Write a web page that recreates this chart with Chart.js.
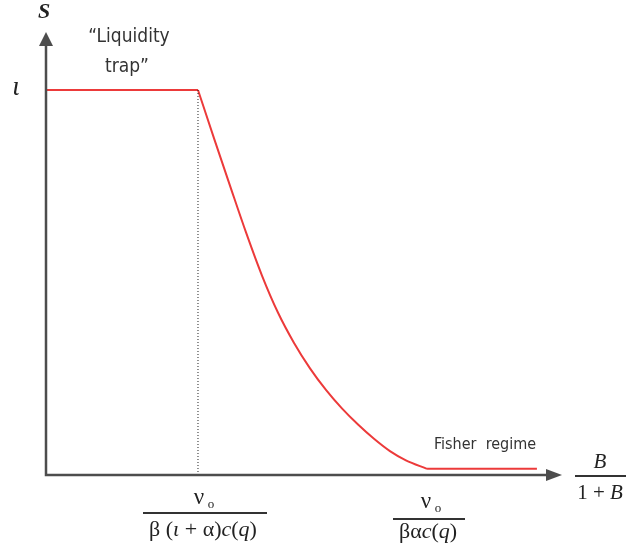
<!DOCTYPE html>
<html>
<head>
<meta charset="utf-8">
<script src="https://cdn.jsdelivr.net/npm/chart.js@4"></script>
<style>
  html, body { margin: 0; padding: 0; background: #fff; }
  #wrap { width: 626px; height: 554px; }
</style>
</head>
<body>
<div id="wrap"><canvas id="grafico" width="626" height="554"></canvas></div>
<script>
// liquidity trap: flat at S = iota
const trampaX = [0, 1];
const trampaY = [1, 1];
// transition curve
const curvaX = [1.0, 1.105, 1.211, 1.316, 1.421, 1.526, 1.632, 1.737, 1.842, 1.947, 2.053, 2.158, 2.263, 2.368, 2.507];
const curvaY = [1.0, 0.875, 0.751, 0.630, 0.518, 0.422, 0.343, 0.277, 0.221, 0.173, 0.131, 0.094, 0.062, 0.038, 0.016];
// Fisher regime
const fisherX = [2.507, 3.23];
const fisherY = [0.016, 0.016];
// dotted guide
const guiaX = [1, 1];
const guiaY = [0, 1];

const puntos = (xs, ys) => xs.map((x, i) => ({ x: x, y: ys[i] }));

const ROJO = "rgb(236,58,58)";
const GRIS = "#4d4d4d";
const SERIF = "'Liberation Serif', 'DejaVu Serif', serif";

// texto con trozos en cursiva / normal
function textoMixto(ctx, trozos, cx, cy, size) {
  let ancho = 0;
  trozos.forEach(t => {
    ctx.font = (t[1] ? "italic " : "") + size + "px " + SERIF;
    ancho += ctx.measureText(t[0]).width;
  });
  let x = cx - ancho / 2;
  ctx.textAlign = "left";
  trozos.forEach(t => {
    ctx.font = (t[1] ? "italic " : "") + size + "px " + SERIF;
    ctx.fillText(t[0], x, cy);
    x += ctx.measureText(t[0]).width;
  });
}

// ejes, flechas y textos
const dibujoEjes = {
  id: "dibujoEjes",
  afterDraw(chart) {
    const ctx = chart.ctx;
    const xs = chart.scales.x, ys = chart.scales.y;
    const x0 = xs.getPixelForValue(0), y0 = ys.getPixelForValue(0);
    const xTop = xs.getPixelForValue(xs.max), yTop = ys.getPixelForValue(ys.max);

    ctx.save();
    ctx.strokeStyle = GRIS;
    ctx.fillStyle = GRIS;
    ctx.lineWidth = 2.5;
    ctx.beginPath();
    ctx.moveTo(x0, yTop + 8);
    ctx.lineTo(x0, y0);
    ctx.lineTo(xTop - 8, y0);
    ctx.stroke();
    // flecha vertical
    ctx.beginPath();
    ctx.moveTo(x0, yTop);
    ctx.lineTo(x0 - 7, yTop + 14);
    ctx.lineTo(x0 + 7, yTop + 14);
    ctx.closePath();
    ctx.fill();
    // flecha horizontal
    ctx.beginPath();
    ctx.moveTo(xTop, y0);
    ctx.lineTo(xTop - 16, y0 - 6);
    ctx.lineTo(xTop - 16, y0 + 6);
    ctx.closePath();
    ctx.fill();

    // etiquetas
    ctx.fillStyle = "#222";
    ctx.textBaseline = "middle";
    ctx.textAlign = "center";
    ctx.font = "bold italic 22px " + SERIF;
    ctx.fillText("S", x0 - 2, 12);
    ctx.font = "italic 27px " + SERIF;
    ctx.fillText("ι", 16, ys.getPixelForValue(1) - 2);

    ctx.fillStyle = "#333";
    ctx.font = "19px 'Liberation Sans Narrow', 'DejaVu Sans Condensed', sans-serif";
    ctx.fillText("\u201CLiquidity", 129, 37);
    ctx.fillText("trap\u201D", 127, 67);
    ctx.textAlign = "left";
    ctx.font = "16px 'Liberation Sans Narrow', 'DejaVu Sans Condensed', sans-serif";
    ctx.fillText("Fisher  regime", 434, 445);

    // fracciones
    const barra = (x1, x2, y) => {
      ctx.strokeStyle = "#333";
      ctx.lineWidth = 2;
      ctx.beginPath();
      ctx.moveTo(x1, y);
      ctx.lineTo(x2, y);
      ctx.stroke();
    };
    const numerador = (cx, y) => {
      ctx.fillStyle = "#222";
      ctx.textAlign = "center";
      ctx.font = "23px " + SERIF;
      ctx.fillText("ν", cx - 4, y);
      ctx.font = "13px " + SERIF;
      ctx.fillText("o", cx + 8, y + 7);
    };
    ctx.fillStyle = "#222";
    const xk = xs.getPixelForValue(1);
    numerador(xk + 5, 498);
    barra(143, 267, 513);
    ctx.fillStyle = "#222";
    textoMixto(ctx, [["β (", false], ["ι", true], [" + α)", false], ["c", true], ["(", false], ["q", true], [")", false]], 203, 530, 22);

    numerador(430, 502);
    barra(393, 465, 519);
    ctx.fillStyle = "#222";
    textoMixto(ctx, [["βα", false], ["c", true], ["(", false], ["q", true], [")", false]], 428, 532, 22);

    barra(575, 626, 476);
    ctx.fillStyle = "#222";
    textoMixto(ctx, [["B", true]], 600, 462, 21);
    textoMixto(ctx, [["1 + ", false], ["B", true]], 600, 493, 21);
    ctx.restore();
  }
};

new Chart(document.getElementById("grafico"), {
  type: "scatter",
  data: {
    datasets: [
      { data: puntos(guiaX, guiaY), showLine: true, borderColor: "#222", borderWidth: 1, borderDash: [1, 2], pointRadius: 0 },
      { data: puntos(trampaX, trampaY), showLine: true, borderColor: ROJO, borderWidth: 2, pointRadius: 0 },
      { data: puntos(curvaX, curvaY), showLine: true, borderColor: ROJO, borderWidth: 2, pointRadius: 0, cubicInterpolationMode: "monotone" },
      { data: puntos(fisherX, fisherY), showLine: true, borderColor: ROJO, borderWidth: 2, pointRadius: 0 }
    ]
  },
  options: {
    responsive: false,
    animation: false,
    layout: { padding: { left: 46, right: 64, top: 32, bottom: 79 } },
    plugins: { legend: { display: false }, tooltip: { enabled: false } },
    scales: {
      x: { type: "linear", min: 0, max: 3.395, display: false },
      y: { type: "linear", min: 0, max: 1.1506, display: false }
    }
  },
  plugins: [dibujoEjes]
});
</script>
</body>
</html>
